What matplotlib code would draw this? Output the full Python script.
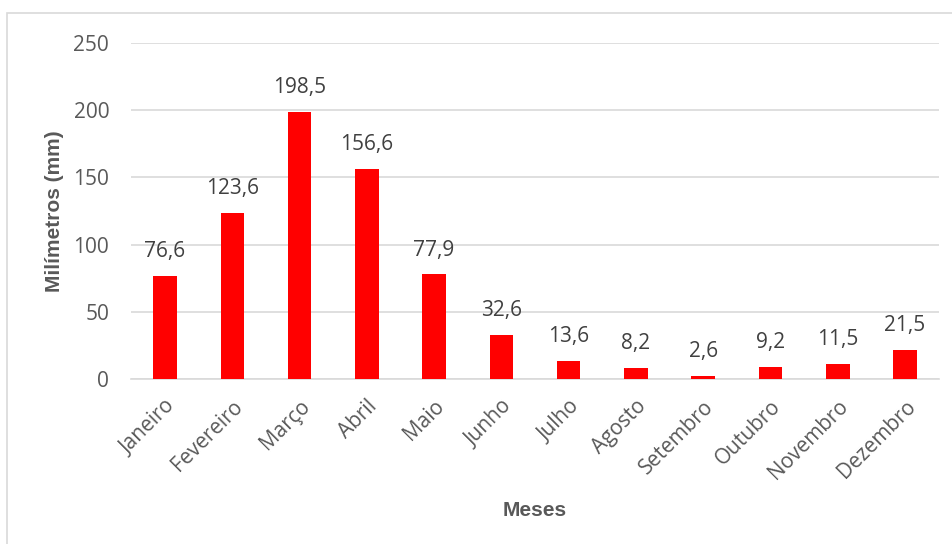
import matplotlib
matplotlib.use('Agg')
import matplotlib.pyplot as plt
from matplotlib.patches import Rectangle

months = ['Janeiro', 'Fevereiro', 'Março', 'Abril', 'Maio', 'Junho', 'Julho',
          'Agosto', 'Setembro', 'Outubro', 'Novembro', 'Dezembro']
rainfall = [76.6, 123.6, 198.5, 156.6, 77.9, 32.6, 13.6, 8.2, 2.6, 9.2, 11.5, 21.5]
y_ticks = [0, 50, 100, 150, 200, 250]

fig = plt.figure(figsize=(9.52, 5.44), dpi=100)
ax = fig.add_axes([0.138, 0.303, 0.848, 0.618])

# Chart border (as in the Excel export)
fig.patches.append(Rectangle((7 / 952, -0.1), 1.2, 1 - 13 / 544 + 0.1,
                             transform=fig.transFigure, fill=False,
                             edgecolor='#d9d9d9', linewidth=1.2))

x = range(len(months))
ax.bar(x, rainfall, width=0.35, color='#ff0000', zorder=3)

for xi, v in zip(x, rainfall):
    ax.annotate(f'{v:.1f}'.replace('.', ','), (xi, v), xytext=(0, 10),
                textcoords='offset points', ha='center', va='bottom',
                fontsize=15, color='#404040', family='Open Sans')

ax.set_xlim(-0.5, len(months) - 0.5)
ax.set_ylim(0, 250)
ax.set_yticks(y_ticks)
ax.set_yticklabels([str(t) for t in y_ticks], family='Open Sans', fontsize=15, color='#595959')
ax.set_xticks(list(x))
ax.set_xticklabels(months, rotation=45, ha='right', rotation_mode='anchor',
                   family='Open Sans', fontsize=15, color='#595959')
ax.tick_params(axis='both', length=0)
ax.tick_params(axis='y', pad=16)
ax.tick_params(axis='x', pad=12)

ax.grid(axis='y', color='#d9d9d9', linewidth=1.2, zorder=0)
for s in ['top', 'right', 'left']:
    ax.spines[s].set_visible(False)
ax.spines['bottom'].set_color('#d9d9d9')
ax.spines['bottom'].set_linewidth(1.2)

# axis titles placed in figure pixels
fig.text(55 / 952, 1 - 211 / 544, 'Milímetros (mm)', family='Liberation Sans',
         fontweight='bold', fontsize=15, color='#595959', rotation=90,
         ha='center', va='center')
fig.text(535 / 952, 1 - 511 / 544, 'Meses', family='Liberation Sans', fontweight='bold',
         fontsize=15, color='#595959', ha='center', va='center')

fig.savefig('out.png', dpi=100)
